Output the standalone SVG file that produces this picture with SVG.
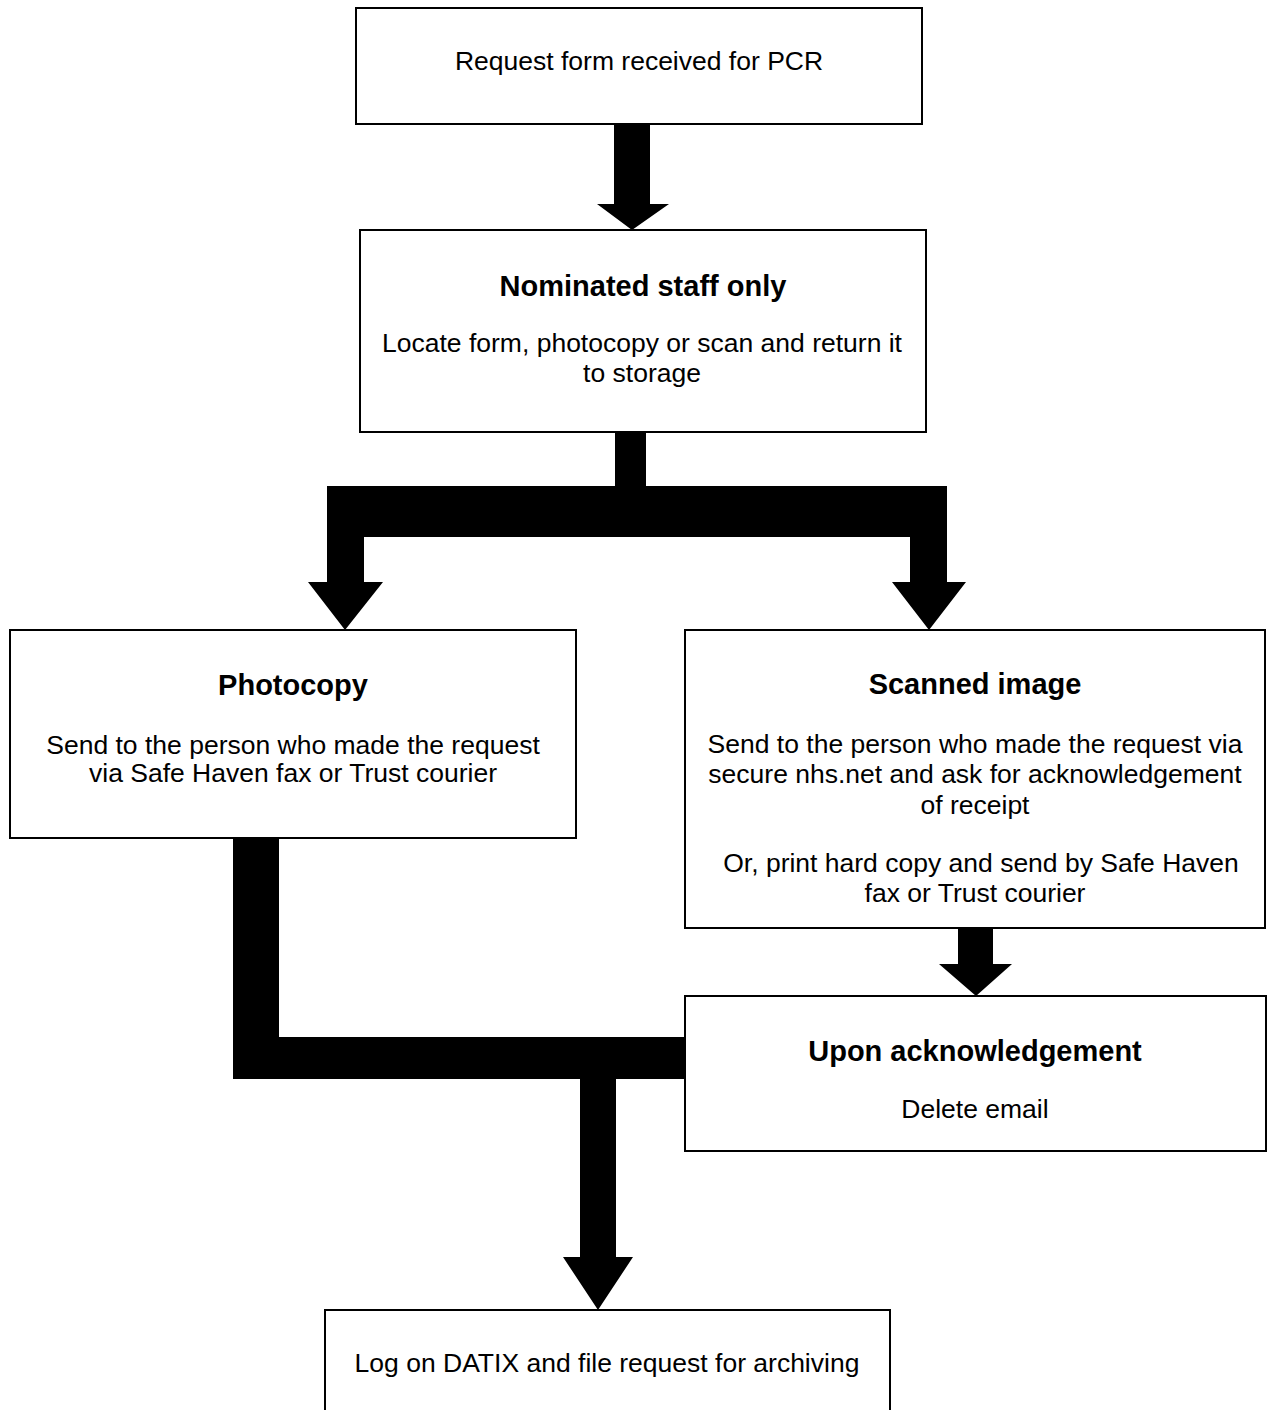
<svg xmlns="http://www.w3.org/2000/svg" width="1268" height="1410" viewBox="0 0 1268 1410">
<style>
.box{fill:#fff;stroke:#000;stroke-width:2}
.t{font-family:"Liberation Sans",Arial,sans-serif;font-size:26.5px;fill:#000;text-anchor:middle}
.h{font-family:"Liberation Sans",Arial,sans-serif;font-size:29px;font-weight:bold;fill:#000;text-anchor:middle}
.c{fill:#000;stroke:none}
</style>
<rect width="1268" height="1410" fill="#fff"/>
<g id="n-request">
<rect class="box" x="356" y="8" width="566" height="116"/>
<text class="t" x="639" y="70">Request form received for PCR</text>
</g>
<g id="n-nominated">
<rect class="box" x="360" y="230" width="566" height="202"/>
<text class="h" x="643" y="296">Nominated staff only</text>
<text class="t" x="642" y="352">Locate form, photocopy or scan and return it</text>
<text class="t" x="642" y="382">to storage</text>
</g>
<g id="n-photocopy">
<rect class="box" x="10" y="630" width="566" height="208"/>
<text class="h" x="293" y="695">Photocopy</text>
<text class="t" x="293" y="754">Send to the person who made the request</text>
<text class="t" x="293" y="782">via Safe Haven fax or Trust courier</text>
</g>
<g id="n-scanned">
<rect class="box" x="685" y="630" width="580" height="298"/>
<text class="h" x="975" y="694">Scanned image</text>
<text class="t" x="975" y="753">Send to the person who made the request via</text>
<text class="t" x="975" y="783">secure nhs.net and ask for acknowledgement</text>
<text class="t" x="975" y="814">of receipt</text>
<text class="t" x="981" y="872">Or, print hard copy and send by Safe Haven</text>
<text class="t" x="975" y="902">fax or Trust courier</text>
</g>
<g id="n-ack">
<rect class="box" x="685" y="996" width="581" height="155"/>
<text class="h" x="975" y="1061">Upon acknowledgement</text>
<text class="t" x="975" y="1118">Delete email</text>
</g>
<g id="n-log">
<rect class="box" x="325" y="1310" width="565" height="120"/>
<text class="t" x="607" y="1372">Log on DATIX and file request for archiving</text>
</g>
<g id="connectors">
<path class="c" d="M614,124 H650 V204 H669 L632,230 L597,204 H614 Z"/>
<path class="c" d="M615,432 H646 V486 H947 V582 H966 L929,630 L892,582 H910 V537 H364 V582 H383 L345,630 L308,582 H327 V486 H615 Z"/>
<path class="c" d="M233,838 H279 V1037 H686 V1079 H616 V1257 H633 L598,1310 L563,1257 H580 V1079 H233 Z"/>
<path class="c" d="M958,928 H993 V964 H1012 L976,996 L939,964 H958 Z"/>
</g>
</svg>
